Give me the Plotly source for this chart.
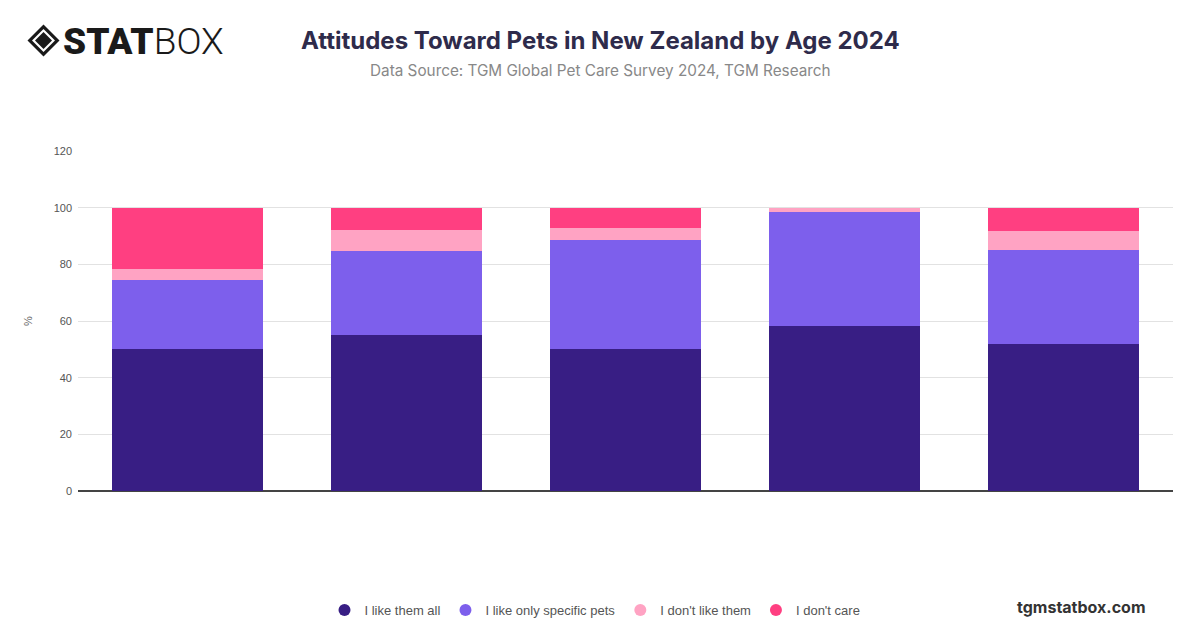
import plotly.graph_objects as go

categories = ["18-24", "25-34", "35-44", "45-54", "55+"]
series_names = ["I like them all", "I like only specific pets", "I don't like them", "I don't care"]
like_all = [50.0, 55.1, 50.0, 58.3, 51.8]
like_specific = [24.6, 29.5, 38.7, 40.2, 33.4]
dont_like = [3.6, 7.5, 4.1, 1.5, 6.6]
dont_care = [21.8, 7.9, 7.2, 0.0, 8.2]
colors = ["#381E84", "#7D5FEC", "#FFA3C3", "#FF3F81"]
y_ticks = [0, 20, 40, 60, 80, 100, 120]

# page coordinates (window px) -> paper coords; plot area spans x 78..1173, y 151..491 on the page
def px(X):
    return (X - 78) / 1095


def py(Y):
    return (491 - Y) / 340


fig = go.Figure()
for name, vals, col in zip(series_names, [like_all, like_specific, dont_like, dont_care], colors):
    fig.add_trace(go.Bar(x=categories, y=vals, name=name, marker=dict(color=col, line=dict(width=0)),
                         showlegend=False))
for name, col in zip(series_names, colors):
    fig.add_trace(go.Scatter(x=[None], y=[None], mode="markers", name=name,
                             marker=dict(color=col, size=14, symbol="circle")))

fig.update_layout(
    barmode="stack",
    bargap=0.315,
    width=1200, height=628,
    margin=dict(l=70, r=35, t=143, b=145, autoexpand=False),
    paper_bgcolor="white", plot_bgcolor="white",
    font=dict(family="Liberation Sans, Arial, sans-serif", color="#555"),
    legend=dict(orientation="h", x=px(595), xanchor="center", y=py(610), yanchor="middle",
                font=dict(size=13, color="#555", family="Liberation Sans, Arial, sans-serif"),
                itemsizing="constant", traceorder="normal", tracegroupgap=0),
    xaxis=dict(showticklabels=False, showgrid=False, zeroline=False, showline=False, fixedrange=True),
    yaxis=dict(range=[0, 120], tickvals=y_ticks, showgrid=True, gridcolor="#E2E2E2", gridwidth=1,
               zeroline=True, zerolinecolor="#444", zerolinewidth=1.5, automargin=False,
               tickfont=dict(size=11, color="#555"), ticklabelstandoff=5),
)

fig.add_annotation(text="%", xref="paper", yref="paper", x=px(28), y=py(321),
                   xanchor="center", yanchor="middle", textangle=-90, showarrow=False,
                   font=dict(size=11, color="#666", family="Liberation Sans, Arial, sans-serif"))
fig.add_annotation(text="<b>Attitudes Toward Pets in New Zealand by Age 2024</b>",
                   xref="paper", yref="paper", x=px(600), xanchor="center",
                   y=py(40), yanchor="middle", showarrow=False,
                   font=dict(size=24, color="#2E2B4B", family="Inter, sans-serif"))
fig.add_annotation(text="Data Source: TGM Global Pet Care Survey 2024, TGM Research",
                   xref="paper", yref="paper", x=px(600), xanchor="center",
                   y=py(71), yanchor="middle", showarrow=False,
                   font=dict(size=15.3, color="#888", family="Inter, sans-serif"))
fig.add_annotation(text="<b>tgmstatbox.com</b>", xref="paper", yref="paper",
                   x=px(1148), xanchor="right",
                   y=py(607), yanchor="middle", showarrow=False,
                   font=dict(size=16, color="#333", family="Inter, sans-serif"))
# logo text
fig.add_annotation(text="<span style='font-weight:900'>STAT</span><span style='font-weight:300'>BOX</span>",
                   xref="paper", yref="paper", x=px(61), xanchor="left",
                   y=py(41), yanchor="middle", showarrow=False,
                   font=dict(size=37, color="#1a1a1a", family="Roboto, sans-serif"))


def diamond(cx, cy, r):
    return "M {} {} L {} {} L {} {} L {} {} Z".format(
        px(cx), py(cy - r), px(cx + r), py(cy), px(cx), py(cy + r), px(cx - r), py(cy))


for r, col in [(16, "#1a1a1a"), (11.5, "white"), (8.5, "#1a1a1a")]:
    fig.add_shape(type="path", xref="paper", yref="paper", path=diamond(43.5, 40.5, r),
                  fillcolor=col, line=dict(width=0))

fig.write_html("out.html")
